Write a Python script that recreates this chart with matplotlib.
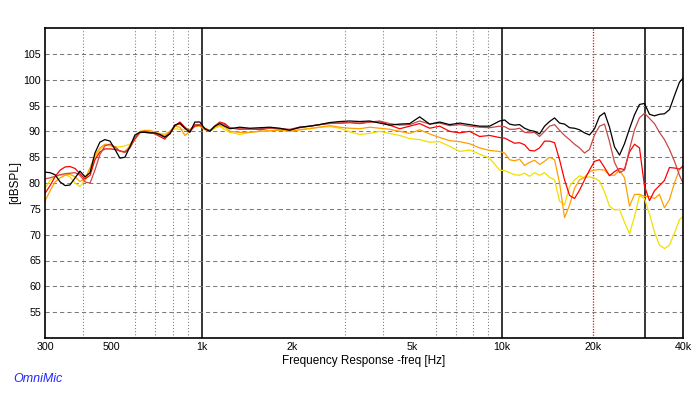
import matplotlib
matplotlib.use('Agg')
import matplotlib.pyplot as plt
from matplotlib.ticker import FixedLocator, NullFormatter

plt.rcParams['font.family'] = ['Liberation Sans', 'DejaVu Sans']

# frequency points (Hz)
freq = [300, 312, 324, 337, 350, 363, 378, 392, 408, 424, 440, 457, 475, 494, 513, 533,
        554, 575, 598, 621, 645, 671, 697, 724, 752, 782, 812, 844, 877, 911, 947, 984,
        1022, 1062, 1103, 1146, 1191, 1238,
        1336, 1443, 1558, 1682, 1816, 1960, 2116, 2285, 2467, 2663, 2875, 3104, 3352,
        3619, 3907, 4218, 4554, 4917, 5308, 5731, 6188, 6680, 7213, 7787, 8407, 9077, 9800,
        10183, 10580, 10994, 11423, 11869, 12333, 12814, 13315, 13835, 14375, 14937, 15520,
        16126, 16756, 17410, 18090, 18797, 19531, 20294, 21086, 21910, 22765, 23655, 24579,
        25539, 26536, 27573, 28650, 29769, 30931, 32140, 33395, 34699, 36055, 37463, 38926,
        40000]

spl_black = [82.1, 82.0, 81.6, 80.2, 79.5, 79.6, 81.0, 82.3, 81.2, 82.0, 85.8, 87.9, 88.4, 88.1,
             86.5, 84.8, 85.0, 87.0, 89.3, 89.8, 89.8, 89.7, 89.7, 89.4, 88.9, 89.5, 91.2, 91.6,
             90.6, 89.8, 91.8, 91.8, 90.5, 90.0, 91.0, 91.5, 91.0, 90.5,
             90.8, 90.6, 90.7, 90.8, 90.6, 90.2, 90.8, 91.0, 91.3, 91.7, 91.9, 92.0, 91.9, 92.0,
             91.6, 91.2, 91.4, 91.5, 92.8, 91.4, 91.8, 91.3, 91.6, 91.3, 91.0, 91.0, 92.0,
             92.2, 91.4, 91.2, 91.3, 90.6, 90.2, 90.0, 89.5, 91.0, 91.9, 92.6, 91.6, 91.4, 90.7,
             90.6, 90.3, 89.7, 89.3, 90.5, 92.9, 93.6, 90.8, 87.0, 85.4, 87.6, 90.5, 93.2, 95.2,
             95.4, 93.3, 93.0, 93.3, 93.4, 94.2, 96.9, 99.5, 100.3]

spl_brown = [80.8, 81.0, 81.3, 81.6, 81.8, 81.9, 82.0, 81.5, 80.2, 80.0, 82.5, 85.5, 87.2, 87.5,
             87.0, 86.2, 85.9, 86.8, 88.8, 89.8, 89.8, 89.7, 89.6, 89.2, 88.8, 89.8, 91.2, 91.4,
             90.6, 90.2, 91.3, 91.3, 90.5, 90.2, 91.0, 91.7, 91.3, 90.6,
             90.5, 90.4, 90.5, 90.6, 90.5, 90.4, 90.8, 91.0, 91.3, 91.5, 91.6, 91.7, 91.6, 91.8,
             92.0, 91.5, 91.2, 91.3, 92.0, 91.4, 91.6, 91.1, 91.3, 91.0, 90.8, 90.7, 91.0,
             90.9, 90.4, 90.4, 90.6, 89.8, 89.7, 89.8, 89.0, 90.0, 91.0, 91.3, 90.2, 89.2, 88.4,
             87.5, 86.8, 85.8, 86.5, 89.3, 91.0, 91.4, 88.0, 84.0, 82.0, 82.5, 86.5, 90.3, 92.6,
             93.5, 92.5, 91.5, 89.8, 88.4, 86.5, 84.2, 81.5, 80.0]

spl_red = [78.0, 79.5, 81.2, 82.5, 83.1, 83.2, 82.8, 81.8, 80.8, 81.5, 84.5, 86.0, 86.6, 86.6,
           86.5, 86.2, 86.0, 86.8, 88.5, 89.8, 90.0, 89.8, 89.5, 89.0, 88.5, 89.6, 91.0, 91.8,
           90.8, 90.0, 91.0, 91.2, 90.6, 90.1, 91.0, 91.8, 91.5, 90.7,
           90.4, 90.5, 90.3, 90.6, 90.5, 90.3, 90.7, 91.0, 91.3, 91.6, 91.6, 91.7, 91.5, 91.8,
           91.9, 91.2, 90.5, 91.0, 91.5, 90.6, 91.0, 90.0, 89.7, 90.0, 89.0, 89.2, 88.8,
           88.7, 88.2, 87.7, 87.8, 87.4, 86.3, 86.2, 86.8, 88.1, 88.1, 87.8, 84.5, 80.6, 77.6,
           77.0, 78.6, 80.6, 82.5, 84.2, 84.5, 83.0, 81.4, 82.2, 82.8, 82.6, 86.0, 87.5, 86.8,
           79.4, 76.6, 78.5, 79.5, 80.5, 83.0, 82.9, 82.7, 83.2]

spl_orange = [76.5, 78.5, 80.2, 81.0, 81.5, 81.7, 81.2, 80.3, 80.8, 83.0, 85.3, 86.8, 87.5, 87.4,
              86.8, 86.2, 86.1, 87.2, 89.0, 90.0, 90.2, 90.2, 89.8, 89.5, 89.2, 90.0, 91.0, 90.8,
              89.2, 90.0, 91.2, 91.0, 90.3, 90.0, 90.8, 91.2, 90.8, 90.0,
              89.8, 89.8, 90.0, 90.1, 90.2, 90.0, 90.3, 90.5, 90.8, 91.1, 90.8, 90.6, 90.5, 90.8,
              90.6, 90.4, 90.0, 89.6, 90.3, 89.5, 88.8, 88.2, 88.0, 87.6, 86.8, 86.3, 86.1,
              85.8, 84.5, 84.3, 84.6, 83.4, 84.0, 84.4, 83.6, 84.2, 85.0, 84.5, 80.0, 73.3, 75.7,
              79.0, 80.6, 81.1, 82.2, 82.5, 82.6, 82.5, 81.5, 81.5, 82.5, 81.0, 75.5, 77.8, 77.8,
              77.4, 77.4, 77.0, 77.8, 75.2, 76.8, 80.0, 82.6, 83.4]

spl_yellow = [79.0, 80.5, 81.2, 81.5, 81.6, 81.2, 80.0, 79.3, 80.5, 82.5, 84.8, 86.5, 87.3, 87.2,
              87.0, 87.0, 87.2, 87.5, 88.5, 89.6, 90.0, 90.0, 89.8, 89.6, 89.5, 90.0, 90.5, 90.4,
              90.3, 90.4, 91.0, 91.0, 90.6, 90.0, 90.6, 91.0, 90.3, 89.8,
              89.4, 89.8, 90.0, 90.1, 90.3, 90.0, 90.3, 90.6, 90.8, 90.9, 90.6, 89.9, 89.4, 89.6,
              90.0, 89.6, 89.2, 88.6, 88.4, 87.9, 88.0, 87.1, 86.1, 86.4, 85.6, 84.8, 82.5,
              82.4, 82.0, 81.6, 81.5, 81.9, 81.3, 82.0, 81.5, 82.0, 81.1, 80.6, 76.5, 75.8, 79.3,
              80.6, 81.4, 81.0, 81.2, 80.9, 80.4, 78.3, 75.5, 74.8, 74.9, 72.4, 70.2, 73.5, 77.5,
              77.0, 74.0, 70.5, 68.0, 67.3, 68.0, 70.3, 72.9, 73.5]

xtick_pos = [300, 500, 1000, 2000, 5000, 10000, 20000, 40000]
xtick_lab = ['300', '500', '1k', '2k', '5k', '10k', '20k', '40k']
x_dotted = [400, 500, 600, 700, 800, 900, 2000, 3000, 4000, 5000, 6000, 7000, 8000, 9000]
x_solid = [1000, 10000, 30000]
yticks = [55, 60, 65, 70, 75, 80, 85, 90, 95, 100, 105]

fig = plt.figure(figsize=(6.97, 3.99), dpi=100)
ax = fig.add_axes([45/697, 61/399, 638/697, 310/399])

ax.set_xscale('log')
ax.set_xlim(300, 40000)
ax.set_ylim(50, 110)

ax.xaxis.set_major_locator(FixedLocator(xtick_pos))
ax.set_xticklabels(xtick_lab)
ax.xaxis.set_minor_locator(FixedLocator(x_dotted))
ax.xaxis.set_minor_formatter(NullFormatter())
ax.set_yticks(yticks)
ax.tick_params(which='both', length=0, labelsize=7.7, pad=3)

ax.grid(which='minor', axis='x', color='#7a7a7a', linestyle=(0, (1, 2)), lw=0.75)
ax.grid(which='major', axis='y', color='#7a7a7a', linestyle=(0, (4, 3)), lw=0.75)
ax.grid(which='major', axis='x', visible=False)
for f in x_solid:
    ax.axvline(f, color='black', lw=1.1, zorder=1)
ax.axvline(20000, color='#ff0000', lw=0.9, linestyle=(0, (1, 1.2)), zorder=1)

ax.plot(freq, spl_yellow, color='#f0e000', lw=0.9)
ax.plot(freq, spl_orange, color='#ffa000', lw=0.9)
ax.plot(freq, spl_red, color='#ff0000', lw=0.9)
ax.plot(freq, spl_brown, color='#c84848', lw=0.9)
ax.plot(freq, spl_black, color='black', lw=0.9)

for s in ax.spines.values():
    s.set_linewidth(1.2)

ax.set_xlabel('Frequency Response -freq [Hz]', fontsize=8.5, labelpad=2)
ax.set_ylabel('[dBSPL]', fontsize=8.5)
ax.yaxis.set_label_coords(-30/638, 0.5)
ax.yaxis.label.set_va('center')
fig.text(13/697, 1 - 379/399, 'OmniMic', color='#2525ff', fontsize=9,
         style='italic', va='center', ha='left')

fig.savefig('out.png', dpi=100)
